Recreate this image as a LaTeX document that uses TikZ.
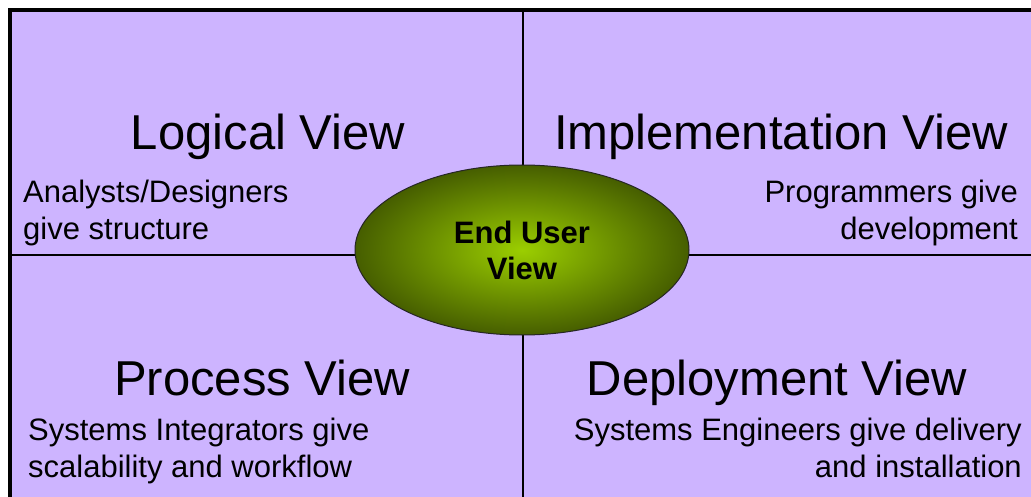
\documentclass[tikz,border=0pt]{standalone}
\usepackage{fontspec}
\setmainfont{Liberation Sans}
\usetikzlibrary{shapes.geometric}
\definecolor{quadfill}{RGB}{205,180,255}
\definecolor{glowin}{RGB}{155,206,0}
\definecolor{glowout}{RGB}{70,94,0}
\tikzset{
  viewtitle/.style={inner sep=0pt, font=\fontsize{49}{58}\selectfont},
  viewnote/.style={inner sep=0pt, font=\fontsize{31}{37}\selectfont},
  enduser/.style={ellipse, draw=black!85, line width=1pt, inner color=glowin, outer color=glowout,
    minimum width=334pt, minimum height=170pt, align=center, font=\bfseries\fontsize{31}{36}\selectfont}
}
\begin{document}
\begin{tikzpicture}[x=1pt,y=-1pt]
  \useasboundingbox (0,0) rectangle (1031,497);
  \clip (0,0) rectangle (1031,497);
  \draw[line width=4pt, fill=quadfill] (10,10) rectangle (1050,520);
  \coordinate (top) at (523,10);
  \coordinate (bottom) at (523,497);
  \coordinate (left) at (10,255);
  \coordinate (right) at (1031,255);
  \draw[line width=1.2pt] (top) -- (bottom);
  \draw[line width=1.2pt] (left) -- (right);
  \node[enduser] (user) at (522,250) {End User\\View};
  \node[viewtitle, anchor=base] (logical) at (268,150) {Logical View};
  \node[viewtitle, anchor=base] (implementation) at (781,150) {Implementation View};
  \node[viewtitle, anchor=base] (process) at (262,395) {Process View};
  \node[viewtitle, anchor=base] (deployment) at (777,395) {Deployment View};
  \node[viewnote, anchor=base west, align=left] (analysts) at (23,240) {Analysts/Designers\\give structure};
  \node[viewnote, anchor=base east, align=right] (programmers) at (1018,240) {Programmers give\\development};
  \node[viewnote, anchor=base west, align=left] (integrators) at (28,477) {Systems Integrators give\\scalability and workflow};
  \node[viewnote, anchor=base east, align=right] (engineers) at (1022,477) {Systems Engineers give delivery\\and installation};
\end{tikzpicture}
\end{document}
